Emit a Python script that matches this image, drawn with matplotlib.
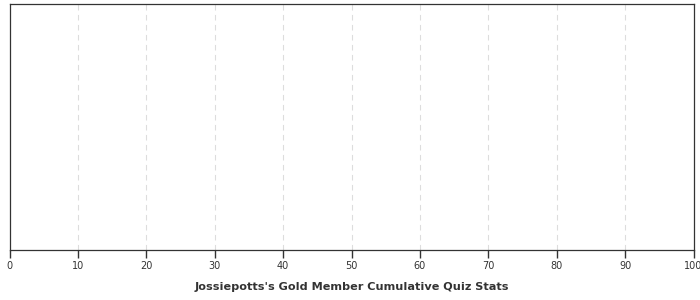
import matplotlib
matplotlib.use('Agg')
import matplotlib.pyplot as plt

# Данных нет — пустая шкала процентов
x_ticks = [0, 10, 20, 30, 40, 50, 60, 70, 80, 90, 100]
x_labels = [str(t) for t in x_ticks]
title = "Jossiepotts's Gold Member Cumulative Quiz Stats"

fig = plt.figure(figsize=(7, 3), dpi=100)
ax = fig.add_axes([9.5 / 700, 1 - 250 / 300, 684 / 700, 246 / 300])

ax.set_xlim(0, 100)
ax.set_ylim(0, 1)
ax.set_xticks(x_ticks)
ax.set_xticklabels(x_labels, fontsize=7, color='#333333')
ax.set_yticks([])
ax.tick_params(axis='x', length=6, width=1, color='#333333', pad=2)

# пунктирная сетка по X
for t in x_ticks[1:-1]:
    ax.axvline(t, color='#dddddd', linestyle=(0, (5, 4)), linewidth=0.8, zorder=0)

for s in ax.spines.values():
    s.set_color('#333333')
    s.set_linewidth(0.9)

ax.set_xlabel(title, fontsize=8.1, fontweight='bold', color='#333333', labelpad=8)

fig.savefig('out.png', dpi=100)
